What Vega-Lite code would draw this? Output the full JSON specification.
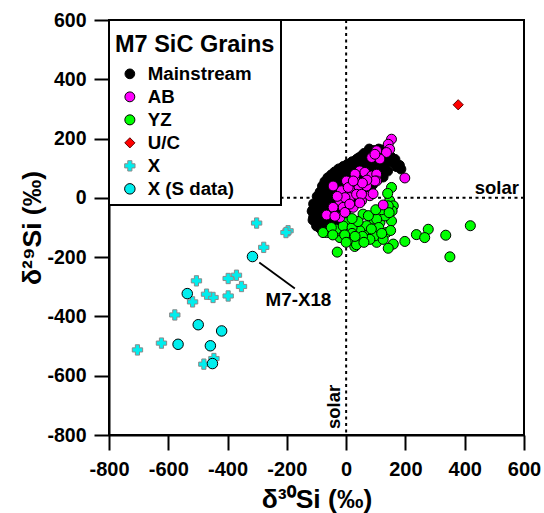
{
  "$schema": "https://vega.github.io/schema/vega-lite/v6.json",
  "width": 415,
  "height": 415,
  "autosize": "none",
  "padding": {"left": 109, "top": 20, "right": 20, "bottom": 78},
  "background": "white",
  "config": {
    "font": "Liberation Sans",
    "view": {"stroke": "black", "strokeWidth": 2},
    "axis": {
      "grid": false, "domainColor": "black", "domainWidth": 2, "tickColor": "black", "tickWidth": 2,
      "labelFont": "Liberation Sans", "labelFontWeight": "bold", "labelColor": "black",
      "titleFont": "Liberation Sans", "titleFontWeight": "bold", "titleColor": "black",
      "labelFlush": false, "labelOverlap": false
    },
    "legend": {
      "orient": "top-left", "offset": 0, "padding": 6, "strokeColor": "black", "strokeWidth": 2, "fillColor": "white",
      "titleFont": "Liberation Sans", "titleFontSize": 23.5, "titleFontWeight": "bold", "titleColor": "black",
      "titleBaseline": "line-top", "titleLineHeight": 38, "titlePadding": 15,
      "labelFont": "Liberation Sans", "labelFontSize": 18.7, "labelFontWeight": "bold", "labelColor": "black",
      "labelOffset": 8.5, "symbolOffset": 5.5, "rowPadding": 3, "symbolStrokeWidth": 1, "zindex": 1
    }
  },
  "datasets": {
    "grains": [
      {"type":"Mainstream","x":-115,"y":-45},{"type":"Mainstream","x":-110,"y":-65},{"type":"Mainstream","x":-108,"y":-25},{"type":"Mainstream","x":-100,"y":-85},{"type":"Mainstream","x":-98,"y":-50},{"type":"Mainstream","x":-95,"y":-10},{"type":"Mainstream","x":-90,"y":-100},{"type":"Mainstream","x":-88,"y":-70},{"type":"Mainstream","x":-85,"y":-35},{"type":"Mainstream","x":-82,"y":5},{"type":"Mainstream","x":-78,"y":-90},{"type":"Mainstream","x":-75,"y":-55},{"type":"Mainstream","x":-72,"y":-20},{"type":"Mainstream","x":-70,"y":15},{"type":"Mainstream","x":-65,"y":-75},{"type":"Mainstream","x":-62,"y":-40},{"type":"Mainstream","x":-60,"y":-5},{"type":"Mainstream","x":-58,"y":30},{"type":"Mainstream","x":-52,"y":-60},{"type":"Mainstream","x":-50,"y":-25},{"type":"Mainstream","x":-48,"y":10},{"type":"Mainstream","x":-45,"y":45},{"type":"Mainstream","x":-40,"y":-45},{"type":"Mainstream","x":-38,"y":-10},{"type":"Mainstream","x":-35,"y":25},{"type":"Mainstream","x":-32,"y":58},{"type":"Mainstream","x":-28,"y":-30},{"type":"Mainstream","x":-25,"y":5},{"type":"Mainstream","x":-22,"y":40},{"type":"Mainstream","x":-18,"y":72},{"type":"Mainstream","x":-15,"y":-15},{"type":"Mainstream","x":-12,"y":20},{"type":"Mainstream","x":-8,"y":55},{"type":"Mainstream","x":-5,"y":82},{"type":"Mainstream","x":0,"y":-5},{"type":"Mainstream","x":3,"y":35},{"type":"Mainstream","x":6,"y":70},{"type":"Mainstream","x":10,"y":98},{"type":"Mainstream","x":14,"y":10},{"type":"Mainstream","x":18,"y":45},{"type":"Mainstream","x":22,"y":85},{"type":"Mainstream","x":26,"y":118},{"type":"Mainstream","x":30,"y":25},{"type":"Mainstream","x":34,"y":60},{"type":"Mainstream","x":38,"y":100},{"type":"Mainstream","x":42,"y":135},{"type":"Mainstream","x":48,"y":40},{"type":"Mainstream","x":52,"y":78},{"type":"Mainstream","x":56,"y":115},{"type":"Mainstream","x":60,"y":150},{"type":"Mainstream","x":65,"y":55},{"type":"Mainstream","x":70,"y":95},{"type":"Mainstream","x":74,"y":130},{"type":"Mainstream","x":78,"y":165},{"type":"Mainstream","x":84,"y":70},{"type":"Mainstream","x":88,"y":110},{"type":"Mainstream","x":92,"y":145},{"type":"Mainstream","x":98,"y":85},{"type":"Mainstream","x":104,"y":125},{"type":"Mainstream","x":110,"y":160},{"type":"Mainstream","x":116,"y":95},{"type":"Mainstream","x":122,"y":135},{"type":"Mainstream","x":130,"y":110},{"type":"Mainstream","x":135,"y":150},{"type":"Mainstream","x":142,"y":125},{"type":"Mainstream","x":150,"y":140},{"type":"Mainstream","x":160,"y":118},{"type":"Mainstream","x":170,"y":105},{"type":"Mainstream","x":185,"y":97},{"type":"Mainstream","x":140,"y":90},{"type":"Mainstream","x":125,"y":70},{"type":"Mainstream","x":105,"y":60},{"type":"Mainstream","x":-75,"y":-110},{"type":"Mainstream","x":-60,"y":-105},{"type":"Mainstream","x":-45,"y":-90},{"type":"Mainstream","x":-30,"y":-75},{"type":"Mainstream","x":-15,"y":-60},{"type":"Mainstream","x":0,"y":-45},{"type":"Mainstream","x":15,"y":-30},{"type":"Mainstream","x":30,"y":-15},{"type":"Mainstream","x":50,"y":5},{"type":"Mainstream","x":70,"y":25},{"type":"Mainstream","x":90,"y":45},{"type":"Mainstream","x":110,"y":65},
      {"type":"Mainstream","x":-112,"y":-40},{"type":"Mainstream","x":-110,"y":-20},{"type":"Mainstream","x":-98,"y":5},{"type":"Mainstream","x":-88,"y":20},{"type":"Mainstream","x":-80,"y":40},{"type":"Mainstream","x":-72,"y":55},{"type":"Mainstream","x":-62,"y":68},{"type":"Mainstream","x":-50,"y":78},{"type":"Mainstream","x":-38,"y":88},{"type":"Mainstream","x":-25,"y":98},{"type":"Mainstream","x":-10,"y":106},{"type":"Mainstream","x":5,"y":114},{"type":"Mainstream","x":20,"y":122},{"type":"Mainstream","x":35,"y":130},{"type":"Mainstream","x":50,"y":140},{"type":"Mainstream","x":65,"y":148},{"type":"Mainstream","x":80,"y":155},{"type":"Mainstream","x":95,"y":160},{"type":"Mainstream","x":110,"y":165},{"type":"Mainstream","x":125,"y":162},{"type":"Mainstream","x":-112,"y":-75},{"type":"Mainstream","x":-100,"y":-95},{"type":"Mainstream","x":-85,"y":-105},{"type":"Mainstream","x":-75,"y":30},{"type":"Mainstream","x":-60,"y":50},{"type":"Mainstream","x":-45,"y":62},{"type":"Mainstream","x":-30,"y":72},{"type":"Mainstream","x":-15,"y":88},{"type":"Mainstream","x":0,"y":95},{"type":"Mainstream","x":-65,"y":-20},{"type":"Mainstream","x":-50,"y":0},{"type":"Mainstream","x":-90,"y":-10},{"type":"Mainstream","x":180,"y":110},{"type":"Mainstream","x":165,"y":130},
      {"type":"YZ","x":153,"y":35},{"type":"YZ","x":147,"y":-10},{"type":"YZ","x":159,"y":-27},{"type":"YZ","x":155,"y":-44},{"type":"YZ","x":153,"y":-78},{"type":"YZ","x":136,"y":-117},{"type":"YZ","x":159,"y":-156},{"type":"YZ","x":198,"y":-147},{"type":"YZ","x":142,"y":-170},{"type":"YZ","x":237,"y":-124},{"type":"YZ","x":277,"y":-106},{"type":"YZ","x":265,"y":-134},{"type":"YZ","x":336,"y":-126},{"type":"YZ","x":419,"y":-94},{"type":"YZ","x":350,"y":-199},{"type":"YZ","x":-30,"y":-183},{"type":"YZ","x":29,"y":-164},{"type":"YZ","x":103,"y":-150},{"type":"YZ","x":-21,"y":-134},{"type":"YZ","x":12,"y":-139},{"type":"YZ","x":63,"y":-111},{"type":"YZ","x":86,"y":-72},{"type":"YZ","x":114,"y":-83},{"type":"YZ","x":57,"y":-55},{"type":"YZ","x":91,"y":-128},{"type":"YZ","x":131,"y":-61},{"type":"YZ","x":142,"y":-27},{"type":"YZ","x":35,"y":-158},{"type":"YZ","x":-66,"y":-117},{"type":"YZ","x":-27,"y":-111},{"type":"YZ","x":69,"y":-94},{"type":"YZ","x":103,"y":-72},{"type":"YZ","x":1,"y":-83},{"type":"YZ","x":46,"y":-111},{"type":"YZ","x":97,"y":-128},{"type":"YZ","x":-78,"y":-117},{"type":"YZ","x":-33,"y":-106},{"type":"YZ","x":120,"y":-40},{"type":"YZ","x":140,"y":15},{"type":"YZ","x":-50,"y":-100},{"type":"YZ","x":-10,"y":-95},{"type":"YZ","x":20,"y":-100},{"type":"YZ","x":40,"y":-80},{"type":"YZ","x":75,"y":-60},{"type":"YZ","x":110,"y":-100},{"type":"YZ","x":125,"y":-140},{"type":"YZ","x":80,"y":-140},{"type":"YZ","x":55,"y":-130},{"type":"YZ","x":-45,"y":-125},{"type":"YZ","x":150,"y":-110},{"type":"YZ","x":145,"y":-50},{"type":"YZ","x":85,"y":-105},{"type":"YZ","x":20,"y":-120},{"type":"YZ","x":-5,"y":-125},{"type":"YZ","x":0,"y":-150},{"type":"YZ","x":30,"y":-130},{"type":"YZ","x":60,"y":-150},{"type":"YZ","x":120,"y":-120},{"type":"YZ","x":100,"y":-40},{"type":"YZ","x":20,"y":-70},
      {"type":"AB","x":153,"y":198},{"type":"AB","x":142,"y":181},{"type":"AB","x":147,"y":164},{"type":"AB","x":103,"y":159},{"type":"AB","x":136,"y":153},{"type":"AB","x":86,"y":136},{"type":"AB","x":114,"y":131},{"type":"AB","x":97,"y":147},{"type":"AB","x":198,"y":67},{"type":"AB","x":46,"y":91},{"type":"AB","x":63,"y":86},{"type":"AB","x":86,"y":74},{"type":"AB","x":103,"y":80},{"type":"AB","x":103,"y":57},{"type":"AB","x":29,"y":63},{"type":"AB","x":1,"y":57},{"type":"AB","x":40,"y":29},{"type":"AB","x":12,"y":29},{"type":"AB","x":69,"y":40},{"type":"AB","x":80,"y":7},{"type":"AB","x":91,"y":14},{"type":"AB","x":-16,"y":24},{"type":"AB","x":12,"y":1},{"type":"AB","x":52,"y":-10},{"type":"AB","x":-21,"y":-10},{"type":"AB","x":-10,"y":-32},{"type":"AB","x":24,"y":-32},{"type":"AB","x":-44,"y":-32},{"type":"AB","x":125,"y":-24},{"type":"AB","x":-66,"y":-58},{"type":"AB","x":-21,"y":-66},{"type":"AB","x":-38,"y":-62},{"type":"AB","x":-4,"y":-49},{"type":"AB","x":-44,"y":40},{"type":"AB","x":7,"y":35},{"type":"AB","x":97,"y":57},{"type":"AB","x":35,"y":12},{"type":"AB","x":52,"y":12},{"type":"AB","x":-4,"y":1},{"type":"AB","x":12,"y":-21},{"type":"AB","x":46,"y":-17},{"type":"AB","x":30,"y":80},{"type":"AB","x":70,"y":60},{"type":"AB","x":-30,"y":5},{"type":"AB","x":55,"y":50},{"type":"AB","x":24,"y":57},
      {"type":"U/C","x":378,"y":314},
      {"type":"X","x":-302,"y":-85},{"type":"X","x":-196,"y":-111},{"type":"X","x":-203,"y":-117},{"type":"X","x":-278,"y":-167},{"type":"X","x":-505,"y":-280},{"type":"X","x":-370,"y":-261},{"type":"X","x":-398,"y":-272},{"type":"X","x":-353,"y":-299},{"type":"X","x":-398,"y":-331},{"type":"X","x":-449,"y":-336},{"type":"X","x":-471,"y":-325},{"type":"X","x":-518,"y":-351},{"type":"X","x":-578,"y":-395},{"type":"X","x":-623,"y":-490},{"type":"X","x":-704,"y":-513},{"type":"X","x":-446,"y":-542},{"type":"X","x":-480,"y":-561},
      {"type":"X (S data)","x":-316,"y":-198},{"type":"X (S data)","x":-536,"y":-323},{"type":"X (S data)","x":-499,"y":-428},{"type":"X (S data)","x":-420,"y":-449},{"type":"X (S data)","x":-567,"y":-494},{"type":"X (S data)","x":-458,"y":-499},{"type":"X (S data)","x":-451,"y":-559}
    ]
  },
  "layer": [
    {
      "data": {"values": [{}]},
      "mark": {"type": "rule", "color": "black", "strokeWidth": 2, "strokeDash": [3, 3.5]},
      "encoding": {"x": {"datum": 0, "type": "quantitative"}}
    },
    {
      "data": {"values": [{}]},
      "mark": {"type": "rule", "color": "black", "strokeWidth": 2, "strokeDash": [3, 3.5]},
      "encoding": {"y": {"datum": 0, "type": "quantitative"}}
    },
    {
      "data": {"values": [{"x": -293, "y": -218, "x2": -173, "y2": -306}]},
      "mark": {"type": "rule", "color": "black", "strokeWidth": 1.8},
      "encoding": {
        "x": {"field": "x", "type": "quantitative"},
        "y": {"field": "y", "type": "quantitative"},
        "x2": {"field": "x2"},
        "y2": {"field": "y2"}
      }
    },
    {
      "data": {"name": "grains"},
      "mark": {"type": "point", "filled": true, "opacity": 1, "strokeWidth": 1},
      "encoding": {
        "x": {
          "field": "x", "type": "quantitative",
          "scale": {"domain": [-800, 600], "nice": false, "zero": false},
          "axis": {
            "title": "δ³⁰Si (‰)",
            "values": [-800,-700,-600,-500,-400,-300,-200,-100,0,100,200,300,400,500,600],
            "labelExpr": "datum.value % 200 === 0 ? toString(datum.value) : ''",
            "tickSize": {"condition": {"test": "datum.value % 200 !== 0", "value": 7}, "value": 15},
            "labelFontSize": 20, "labelPadding": 9, "titleFontSize": 26.5, "titlePadding": 7
          }
        },
        "y": {
          "field": "y", "type": "quantitative",
          "scale": {"domain": [-800, 600], "nice": false, "zero": false},
          "axis": {
            "title": "δ²⁹Si (‰)",
            "values": [-800,-700,-600,-500,-400,-300,-200,-100,0,100,200,300,400,500,600],
            "labelExpr": "datum.value % 200 === 0 ? toString(datum.value) : ''",
            "tickSize": {"condition": {"test": "datum.value % 200 !== 0", "value": 7}, "value": 15},
            "labelFontSize": 19.5, "labelPadding": 8, "titleFontSize": 26.5, "titlePadding": 0
          }
        },
        "fill": {
          "field": "type", "type": "nominal", "title": "M7 SiC Grains",
          "scale": {"domain": ["Mainstream","AB","YZ","U/C","X","X (S data)"], "range": ["#000000","#ff00ff","#00ff00","#ff0000","#00eeee","#00eeee"]}
        },
        "stroke": {
          "field": "type", "type": "nominal", "title": "M7 SiC Grains",
          "scale": {"domain": ["Mainstream","AB","YZ","U/C","X","X (S data)"], "range": ["#000000","#000000","#000000","#600000","#8a8a8a","#000000"]}
        },
        "shape": {
          "field": "type", "type": "nominal", "title": "M7 SiC Grains",
          "scale": {"domain": ["Mainstream","AB","YZ","U/C","X","X (S data)"], "range": ["circle","circle","circle","diamond","cross","circle"]}
        },
        "size": {
          "field": "type", "type": "nominal", "title": "M7 SiC Grains",
          "scale": {"domain": ["Mainstream","AB","YZ","U/C","X","X (S data)"], "range": [95,110,110,225,175,185]}
        }
      }
    },
    {
      "data": {"values": [
        {"x": 600, "y": 0, "t": "solar"}
      ]},
      "mark": {"type": "text", "align": "right", "baseline": "alphabetic", "dx": -5, "dy": -4, "fontSize": 18.5, "fontWeight": "bold", "font": "Liberation Sans", "color": "black"},
      "encoding": {
        "x": {"field": "x", "type": "quantitative"},
        "y": {"field": "y", "type": "quantitative"},
        "text": {"field": "t"}
      }
    },
    {
      "data": {"values": [
        {"x": 0, "y": -800, "t": "solar"}
      ]},
      "mark": {"type": "text", "align": "left", "baseline": "alphabetic", "angle": 270, "dx": 6, "dy": -6, "fontSize": 18.5, "fontWeight": "bold", "font": "Liberation Sans", "color": "black"},
      "encoding": {
        "x": {"field": "x", "type": "quantitative"},
        "y": {"field": "y", "type": "quantitative"},
        "text": {"field": "t"}
      }
    },
    {
      "data": {"values": [
        {"x": -161, "y": -343, "t": "M7-X18"}
      ]},
      "mark": {"type": "text", "align": "center", "baseline": "middle", "fontSize": 18.8, "fontWeight": "bold", "font": "Liberation Sans", "color": "black"},
      "encoding": {
        "x": {"field": "x", "type": "quantitative"},
        "y": {"field": "y", "type": "quantitative"},
        "text": {"field": "t"}
      }
    }
  ]
}
